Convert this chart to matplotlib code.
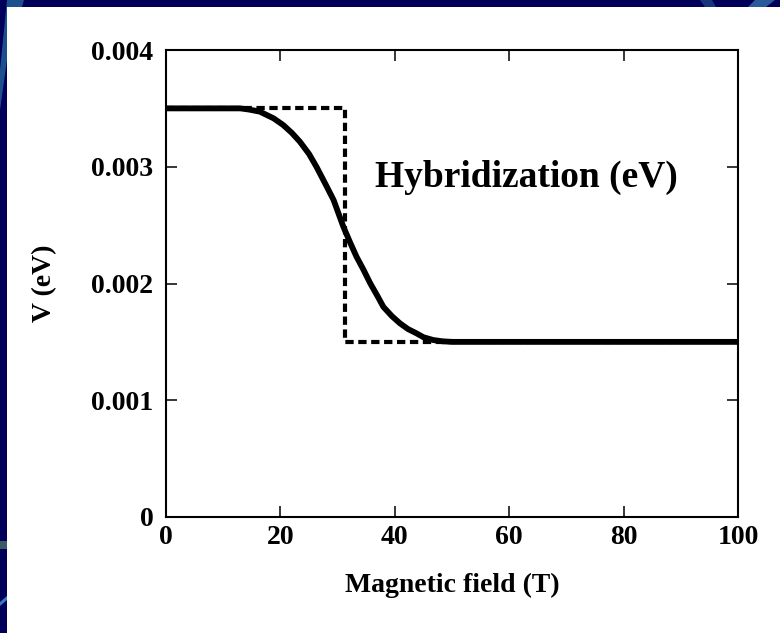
import matplotlib
matplotlib.use("Agg")
import matplotlib.pyplot as plt
from matplotlib.patches import Rectangle, Polygon

# Calculated hybridization V versus magnetic field (smooth crossover)
field = [0, 5, 10, 13, 14.5, 16.4, 18.8, 20.5, 22, 23.4, 25, 26.3, 28,
         29.3, 31.0, 32.2, 33.3, 34.5, 35.7, 37, 38.0, 39.5, 40.9, 42.3,
         43.8, 45, 46.7, 48.3, 50, 60, 80, 100]
hybrid = [0.0035, 0.0035, 0.0035, 0.0035, 0.00349, 0.003472, 0.003415,
          0.003357, 0.00329, 0.003215, 0.00311, 0.0030, 0.00284, 0.002715,
          0.002487, 0.00235, 0.00223, 0.00212, 0.002002, 0.00189, 0.0018,
          0.00172, 0.001659, 0.00161, 0.001573, 0.00154, 0.001516, 0.001505,
          0.0015, 0.0015, 0.0015, 0.0015]

# Abrupt (step) model
step_field = [0, 31.3, 31.3, 100]
step_hybrid = [0.0035, 0.0035, 0.0015, 0.0015]

x_ticks = [0, 20, 40, 60, 80, 100]
y_ticks = [0, 0.001, 0.002, 0.003, 0.004]
y_tick_labels = ["0", "0.001", "0.002", "0.003", "0.004"]

W, H = 780, 633
plt.rcParams['font.family'] = ['Liberation Serif', 'DejaVu Serif']
plt.rcParams['font.weight'] = 'bold'

fig = plt.figure(figsize=(W / 100, H / 100), dpi=100)
fig.patch.set_facecolor('#00005a')

NAVY_LIGHT = '#1d4f8f'


def px(points):
    """Convert top-left pixel coordinates to figure fractions."""
    return [(x / W, 1 - y / H) for x, y in points]


# slide backdrop streaks
for pts, col in [
    ([(7, 0), (24, 0), (7, 60), (0, 110), (0, 70)], NAVY_LIGHT),
    ([(0, 541), (7, 541), (7, 549), (0, 549)], '#3c5a66'),
    ([(0, 602), (7, 596), (7, 600), (0, 606)], '#3a78c0'),
    ([(700, 0), (712, 0), (716, 7), (705, 7)], '#18357a'),
    ([(755, 0), (775, 0), (766, 7), (748, 7)], '#2a5a9a'),
]:
    fig.add_artist(Polygon(px(pts), closed=True, transform=fig.transFigure,
                           facecolor=col, edgecolor='none', zorder=0))

# white slide area
fig.add_artist(Rectangle((7 / W, 0), 1, 1 - 7 / H, transform=fig.transFigure,
                         facecolor='white', edgecolor='none', zorder=0.5))

ax = fig.add_axes([166 / W, 1 - 517 / H, (738 - 166) / W, (517 - 50) / H])
ax.set_facecolor('white')
ax.set_zorder(1)

ax.plot(step_field, step_hybrid, color='black', lw=3.0,
        linestyle=(0, (2, 1.1)), dash_capstyle='butt', zorder=2)
ax.plot(field, hybrid, color='black', lw=4.2, solid_capstyle='butt',
        solid_joinstyle='round', zorder=3, clip_on=False)

ax.set_xlim(0, 100)
ax.set_ylim(0, 0.004)
ax.set_xticks(x_ticks)
ax.set_xticklabels([str(v) for v in x_ticks])
ax.set_yticks(y_ticks)
ax.set_yticklabels(y_tick_labels)

ax.tick_params(direction='in', length=8, width=1.1, top=True, right=True,
               labelsize=20, colors='black')
ax.tick_params(axis='x', pad=6)
ax.tick_params(axis='y', pad=9)
for lab in ax.get_xticklabels() + ax.get_yticklabels():
    lab.set_fontweight('bold')
for sp in ax.spines.values():
    sp.set_linewidth(1.5)
    sp.set_color('black')

ax.set_xlabel('Magnetic field (T)', fontsize=20, fontweight='bold', labelpad=16)
ax.set_ylabel('V (eV)', fontsize=20, fontweight='bold', labelpad=25)

ax.text(36.5, 0.002827, 'Hybridization (eV)', fontsize=27, fontweight='bold',
        ha='left', va='baseline')

fig.savefig('out.png', dpi=100)
